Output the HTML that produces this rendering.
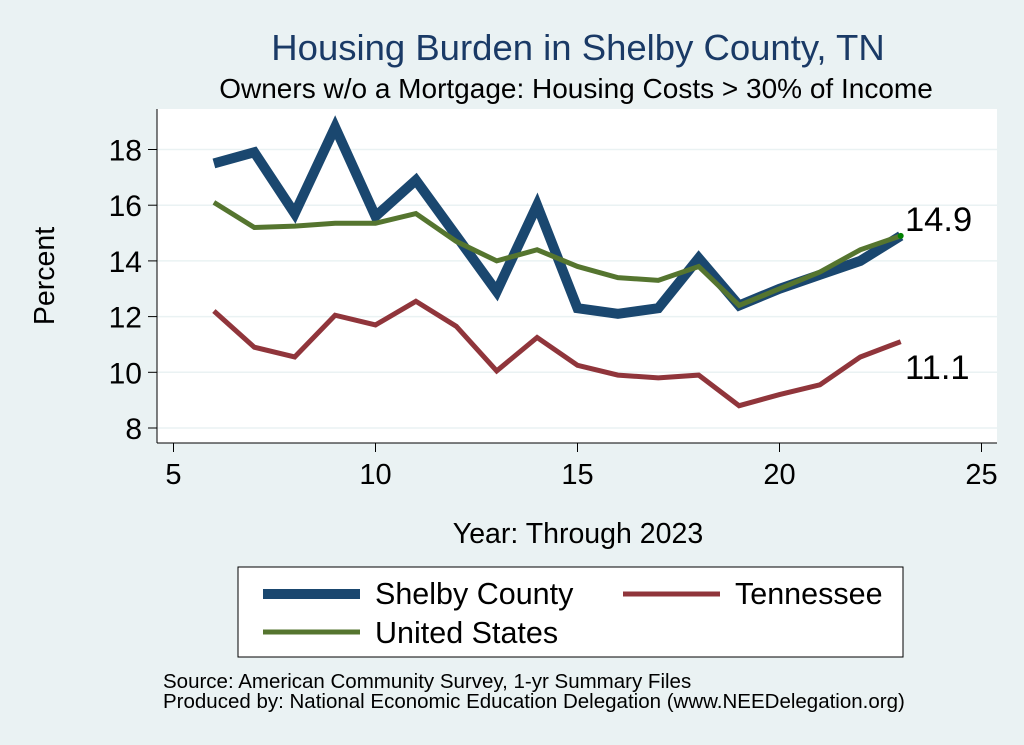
<!DOCTYPE html>
<html><head><meta charset="utf-8"><style>
body{margin:0;background:#eaf2f3;}
svg{display:block;font-family:"Liberation Sans",Arial,sans-serif;}
</style></head><body>
<svg width="1024" height="745">
<rect x="0" y="0" width="1024" height="745" fill="#eaf2f3"/>
<text x="578" y="60" text-anchor="middle" font-size="36.5" fill="#1a3a66">Housing Burden in Shelby County, TN</text>
<text x="576" y="98" text-anchor="middle" font-size="28" fill="#000">Owners w/o a Mortgage: Housing Costs &gt; 30% of Income</text>
<rect x="157" y="109" width="840" height="334" fill="#fff"/>
<g id="grid"></g><g id="axes"></g><g id="series"></g>
<text x="905" y="231" font-size="34.5">14.9</text>
<text x="905" y="379" font-size="34.5">11.1</text>
<text x="578" y="543" text-anchor="middle" font-size="28.5">Year: Through 2023</text>
<text transform="translate(54,276) rotate(-90)" text-anchor="middle" font-size="28.5">Percent</text>
<g>
<rect x="238" y="567" width="665" height="90" fill="#fff" stroke="#000" stroke-width="1"/>
<line x1="263" y1="594" x2="360" y2="594" stroke="#1a476f" stroke-width="10"/>
<text x="375" y="604" font-size="30.5">Shelby County</text>
<line x1="623" y1="594" x2="720" y2="594" stroke="#90353b" stroke-width="5"/>
<text x="735" y="604" font-size="30.5">Tennessee</text>
<line x1="263" y1="632" x2="360" y2="632" stroke="#55752f" stroke-width="5"/>
<text x="375" y="643" font-size="30.5">United States</text>
</g>
<text x="163" y="688" font-size="20.5">Source: American Community Survey, 1-yr Summary Files</text>
<text x="163" y="708" font-size="20.5">Produced by: National Economic Education Delegation (www.NEEDelegation.org)</text>
</svg>
<script>
const years=[6,7,8,9,10,11,12,13,14,15,16,17,18,19,20,21,22,23];
const shelby=[17.5,17.9,15.7,18.8,15.6,16.9,14.9,12.9,16.0,12.3,12.1,12.3,14.1,12.4,13.0,13.5,14.0,14.9];
const tennessee=[12.2,10.9,10.55,12.05,11.7,12.55,11.65,10.05,11.25,10.25,9.9,9.8,9.9,8.8,9.2,9.55,10.55,11.1];
const us=[16.1,15.2,15.25,15.35,15.35,15.7,14.7,14.0,14.4,13.8,13.4,13.3,13.8,12.4,13.0,13.6,14.4,14.9];
const xTicks=[5,10,15,20,25];
const yTicks=[8,10,12,14,16,18];
const NS='http://www.w3.org/2000/svg';
const X=v=>173.5+(v-5)*40.4;
const Y=v=>428-(v-8)*27.85;
function mk(t,a,p){const e=document.createElementNS(NS,t);for(const k in a)e.setAttribute(k,a[k]);p.appendChild(e);return e;}
const grid=document.getElementById('grid'),axes=document.getElementById('axes'),ser=document.getElementById('series');
yTicks.forEach(v=>{
 const g=mk('line',{x1:157,x2:997,y1:Y(v),y2:Y(v),stroke:'#eaf2f3','stroke-width':1.5},grid);
 
 
 mk('line',{x1:148,x2:157,y1:Y(v),y2:Y(v),stroke:'#000'},axes);
 const t=mk('text',{x:142,y:Y(v)+11,'text-anchor':'end','font-size':30},axes);t.textContent=v;
 
 
});
mk('line',{x1:157,x2:157,y1:109,y2:443,stroke:'#000'},axes);
mk('line',{x1:157,x2:997,y1:443,y2:443,stroke:'#000'},axes);
xTicks.forEach(v=>{
 mk('line',{x1:X(v),x2:X(v),y1:443,y2:452,stroke:'#000'},axes);
 const t=mk('text',{x:X(v),y:484,'text-anchor':'middle','font-size':29},axes);t.textContent=v;
 
 
});
function line(vals,col,w,name){
 const p=mk('polyline',{points:vals.map((v,i)=>X(years[i])+','+Y(v)).join(' '),fill:'none',stroke:col,'stroke-width':w,'stroke-linejoin':'miter'},ser);
 
 
}
line(tennessee,'#90353b',5,'tennessee-line');
line(shelby,'#1a476f',10,'shelby-line');
line(us,'#55752f',5,'us-line');
const d=mk('circle',{cx:X(23),cy:Y(us[us.length-1]),r:3,fill:'#008000'},ser);


</script>
</body></html>
